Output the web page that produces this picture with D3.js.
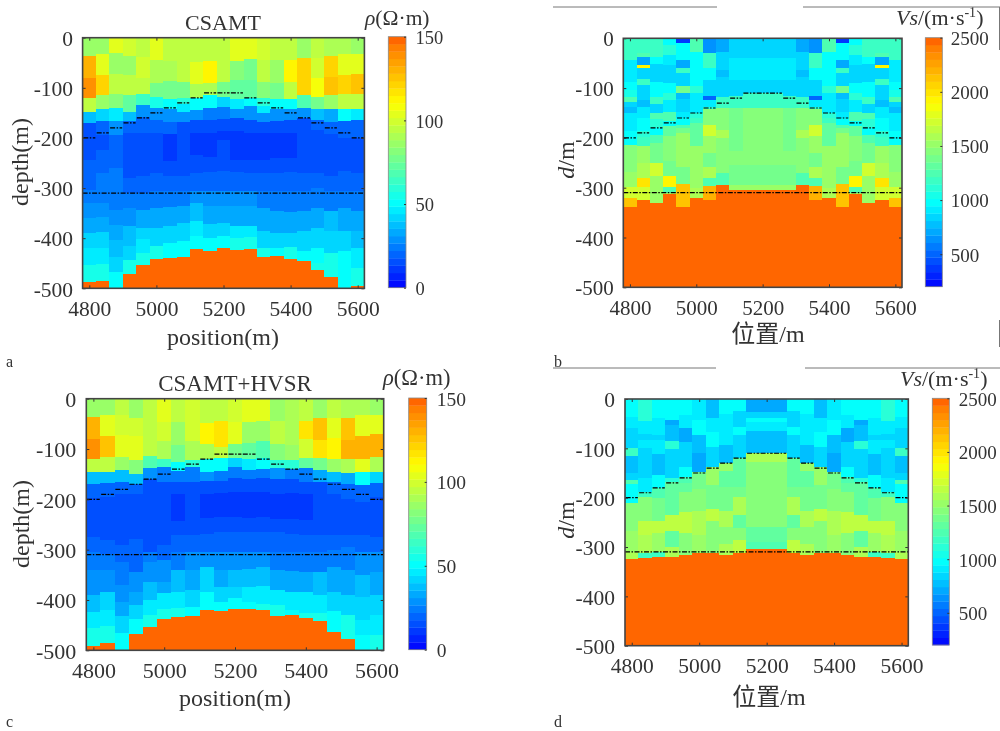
<!DOCTYPE html>
<html><head><meta charset="utf-8">
<script src="https://d3js.org/d3.v7.min.js"></script>
<style>html,body{margin:0;padding:0;background:#fff}svg{display:block;filter:blur(0.4px)}text{font-family:"Liberation Serif","Noto Sans CJK SC",serif;fill:#333}</style>
</head><body><svg id="c" width="1000" height="731"></svg>
<script>
// x positions of the model columns (m)
const positions=[4800,4840,4880,4920,4960,5000,5040,5080,5120,5160,5200,5240,5280,5320,5360,5400,5440,5480,5520,5560,5600];
const xTicks=[4800,5000,5200,5400,5600];
const depthTicks=[0,-100,-200,-300,-400,-500];
const rhoTicks=[0,50,100,150];
const vsTicks=[500,1000,1500,2000,2500];
// interface depth of each column (m), and the deep flat interface
const interfaceDepth=[200,190,180,170,160,150,140,130,120,110,110,110,120,130,140,150,160,170,180,190,200];
const deepInterface=310;
// each column: bottom depth of layer, value, bottom depth, value ...
const rhoCsamt=[
[36,84,80,130,120,140,148,94,171,38,220,17,244,15,274,19,304,22,330,26,360,29,390,33,420,40,453,46,488,55,500,150],
[33,84,75,102,114,122,142,88,166,44,195,20,225,15,270,18,304,23,330,26,357,29,387,34,420,41,451,47,485,55,500,150],
[31,104,73,88,113,97,140,82,166,48,194,27,260,22,304,23,344,24,374,27,404,31,437,37,468,43,500,50],
[36,100,75,88,115,97,148,72,166,37,190,20,280,14,310,18,340,23,375,27,415,36,443,44,472,55,500,150],
[38,95,80,100,113,97,135,65,158,28,190,19,240,14,275,17,310,20,343,25,380,32,402,40,430,46,453,53,500,150],
[45,105,90,92,118,78,140,55,165,28,190,18,270,14,305,18,340,25,380,33,415,44,442,55,500,150],
[47,97,87,90,123,75,143,50,169,28,192,18,247,11,275,15,305,18,337,25,375,33,410,42,439,52,500,150],
[47,97,88,97,120,78,133,58,148,48,169,27,190,17,255,14,275,15,305,18,335,26,370,33,405,42,437,50,500,150],
[48,97,92,102,121,90,144,50,165,28,190,16,235,11,270,15,305,20,330,30,365,38,395,46,422,52,500,150],
[47,97,90,112,115,90,140,50,165,25,190,14,238,11,268,14,305,20,335,28,372,34,400,44,425,52,500,150],
[48,97,88,97,118,75,138,44,162,25,187,14,205,12,240,14,265,16,305,20,335,28,370,35,395,44,420,52,500,150],
[47,102,85,80,122,72,142,46,160,28,187,14,245,11,268,14,305,18,335,27,375,35,400,47,423,53,500,150],
[43,102,85,78,120,72,137,50,165,28,190,15,245,11,270,14,305,20,335,27,375,35,398,47,422,55,500,150],
[44,99,88,97,120,80,137,58,150,45,168,27,190,16,245,12,270,14,305,18,340,24,385,33,420,44,437,53,500,150],
[44,97,90,86,122,78,142,52,167,27,190,15,240,12,270,14,305,18,345,24,390,34,420,44,435,52,500,150],
[45,97,88,112,122,95,142,52,165,28,190,16,240,12,268,14,305,18,348,25,390,33,417,42,442,54,500,150],
[40,84,115,123,140,68,160,30,185,17,240,14,270,16,305,20,345,24,385,31,425,40,446,52,500,150],
[40,95,80,100,118,107,143,75,165,37,185,20,270,14,300,18,340,23,380,33,420,43,450,52,463,57,500,150],
[36,92,78,120,115,125,143,86,168,33,192,19,275,14,305,20,345,25,385,36,430,44,478,55,500,150],
[33,90,75,104,113,122,143,97,166,50,200,20,265,16,305,20,340,26,385,34,425,42,460,50,500,52],
[33,88,72,102,112,125,143,95,165,48,200,18,270,15,305,20,345,26,385,33,420,38,460,46,495,55,500,150]];
const rhoJoint=[
[36,84,80,130,120,138,145,94,170,38,198,20,245,14,275,16,305,22,340,25,390,30,423,38,456,48,491,56,500,150],
[32,84,75,105,115,125,145,94,167,38,195,19,250,14,280,16,308,21,340,25,385,30,420,40,451,48,485,55,500,150],
[32,94,72,100,115,102,142,88,165,37,190,20,255,14,290,17,325,22,370,25,405,28,432,33,465,42,500,50],
[38,88,75,99,122,105,150,80,170,36,190,20,278,14,305,19,345,22,385,27,410,32,438,42,468,50,500,150],
[38,94,90,97,113,97,138,70,160,28,200,17,258,14,305,17,325,25,365,30,400,38,430,45,453,53,500,150],
[47,105,85,100,120,90,135,65,165,26,190,17,265,14,290,15,320,20,365,27,387,35,418,45,437,54,500,150],
[46,97,92,86,125,78,143,50,165,24,190,15,243,11,270,14,305,18,340,26,385,36,415,47,433,55,500,150],
[47,99,85,100,122,90,135,58,165,26,190,15,252,14,270,14,305,18,340,27,380,35,413,44,431,52,500,150],
[48,97,90,112,120,90,145,50,163,27,190,15,238,11,268,14,305,20,335,30,385,40,420,50,500,150],
[45,97,95,118,118,97,143,52,163,26,188,14,235,11,265,14,305,20,340,28,375,34,405,43,422,52,500,150],
[46,99,90,105,118,78,136,44,158,24,185,14,235,12,265,14,305,20,340,28,375,36,397,44,417,50,500,150],
[46,102,88,86,120,72,142,46,160,26,185,14,238,11,265,14,305,19,338,28,375,38,405,46,418,52,500,150],
[45,102,85,86,118,68,140,52,158,24,185,14,235,11,265,14,305,20,335,28,372,38,407,47,420,54,500,150],
[45,88,90,97,122,80,138,60,160,28,190,15,240,12,265,15,305,19,340,26,380,34,410,46,432,54,500,150],
[45,92,92,92,122,86,140,58,160,26,188,14,240,11,268,14,305,18,342,25,385,33,420,45,430,52,500,150],
[45,97,80,116,118,99,138,72,165,25,190,15,242,12,270,14,305,20,345,26,385,34,425,48,436,54,500,150],
[38,84,82,125,117,118,142,78,165,33,190,17,240,14,270,14,305,20,345,26,390,36,425,46,442,54,500,150],
[38,97,78,105,120,112,145,86,165,36,190,20,270,14,300,18,335,24,385,32,422,44,463,52,500,150],
[38,90,82,125,120,130,148,90,170,32,200,19,270,15,295,20,340,25,390,32,430,44,477,55,500,150],
[33,90,75,104,120,128,145,102,172,50,205,22,270,15,305,21,350,28,395,36,440,44,470,47,500,52],
[33,88,70,102,115,128,145,92,168,42,195,20,275,16,305,22,345,27,390,33,430,40,470,47,500,55]];
const vsHvsr=[
[43,1150,87,880,104,980,117,1020,127,1280,137,850,150,750,187,900,200,980,214,1000,268,1420,298,1550,320,1750,338,2150,500,2500],
[30,1200,37,1280,53,720,60,1900,82,830,94,1150,124,850,137,750,160,880,187,960,199,1080,217,1200,251,1500,280,1620,298,2000,324,1700,500,2500],
[37,1150,51,980,87,860,117,980,132,1150,149,850,163,1250,181,1080,194,960,211,1250,251,1400,276,1700,301,1500,330,1550,500,2500],
[13,1000,33,1120,53,880,90,830,110,980,124,1080,147,900,167,1250,177,980,197,1300,247,1450,276,1380,298,1950,310,1250,313,1600,500,2500],
[9,350,43,1000,60,720,69,1150,96,830,109,1400,122,800,147,860,160,940,174,1000,181,1250,191,1400,258,1550,293,1380,338,2150,500,2500],
[27,1230,96,970,110,1100,120,900,150,880,160,1080,171,1200,217,1300,300,1550,320,1600,500,2500],
[30,650,60,1200,84,1000,116,860,124,480,137,880,142,1080,174,1450,196,1720,231,1500,258,1400,280,1580,296,1230,324,2200,500,2500],
[27,720,64,860,77,780,117,860,140,1200,184,1480,200,1580,271,1450,294,1280,500,2500],
[40,840,84,880,116,830,140,1150,227,1400,254,1470,294,1380,304,1500,500,2500],
[40,840,84,880,110,830,140,1150,227,1420,254,1470,294,1400,304,1500,500,2500],
[40,840,84,880,110,830,140,1150,227,1420,254,1470,294,1400,305,1500,500,2500],
[40,840,84,880,110,830,140,1150,227,1420,254,1470,294,1400,304,1500,500,2500],
[40,840,84,880,116,830,140,1150,227,1400,254,1470,294,1380,304,1500,500,2500],
[27,720,64,860,77,780,117,860,140,1200,184,1480,200,1580,271,1450,294,1280,500,2500],
[30,650,60,1200,84,1000,116,860,124,480,137,880,142,1080,174,1450,196,1720,231,1500,258,1400,280,1580,296,1230,324,2200,500,2500],
[27,1230,96,970,110,1100,120,900,150,880,160,1080,171,1200,217,1300,300,1550,320,1600,500,2500],
[9,350,43,1000,60,720,69,1150,96,830,109,1400,122,800,147,860,160,940,174,1000,181,1250,191,1400,258,1550,293,1380,338,2150,500,2500],
[13,1000,33,1120,53,880,90,830,110,980,124,1080,147,900,167,1250,177,980,197,1300,247,1450,276,1380,298,1950,310,1250,313,1600,500,2500],
[37,1150,51,980,87,860,117,980,132,1150,149,850,163,1250,181,1080,194,960,211,1250,251,1400,276,1700,301,1500,330,1550,500,2500],
[30,1200,37,1280,53,720,60,1900,82,830,94,1150,124,850,137,750,160,880,187,960,199,1080,217,1200,251,1500,280,1620,298,2000,324,1700,500,2500],
[43,1150,87,880,104,980,117,1020,127,1280,137,850,150,750,187,900,200,980,214,1000,268,1420,298,1550,320,1750,338,2150,500,2500]];
const vsJoint=[
[36,960,59,900,100,850,115,1150,150,800,164,850,173,1250,198,950,210,1000,268,1430,310,1550,324,1620,500,2500],
[45,1120,70,880,83,840,100,880,161,870,188,920,198,1200,247,1470,276,1650,313,1580,322,1150,500,2500],
[38,980,73,880,83,830,112,880,154,800,180,950,200,1230,247,1380,272,1650,310,1550,320,1200,500,2500],
[43,960,53,700,85,760,102,1100,161,840,169,1080,235,1300,267,1650,299,1320,310,1620,320,1600,500,2500],
[32,1000,58,900,87,720,137,820,158,1000,171,1230,188,1300,229,1430,272,1650,316,1480,500,2500],
[43,920,73,1000,110,800,147,740,182,1380,228,1480,276,1560,313,1520,500,2500],
[38,760,66,880,97,1000,137,820,174,1500,222,1400,247,1680,286,1450,312,1480,500,2500],
[31,1000,59,900,93,900,130,800,146,1550,178,1320,226,1400,260,1620,293,1480,316,1600,500,2500],
[24,950,56,830,73,1000,120,820,178,1320,198,1400,235,1580,262,1320,286,1430,313,1640,500,2500],
[27,740,39,850,47,960,65,880,110,770,128,1620,201,1450,259,1470,289,1340,304,1240,500,2500],
[27,740,39,850,47,960,65,880,110,770,128,1620,201,1450,259,1470,289,1340,304,1240,500,2500],
[27,740,39,850,47,960,65,880,110,770,128,1620,201,1450,259,1470,289,1340,304,1240,500,2500],
[24,950,56,830,73,1000,120,820,178,1320,198,1400,235,1580,262,1320,286,1430,313,1640,500,2500],
[31,1000,59,900,93,900,130,800,146,1550,178,1320,226,1400,260,1620,293,1480,316,1600,500,2500],
[38,760,66,880,97,1000,137,820,174,1500,222,1400,247,1680,286,1450,312,1480,500,2500],
[43,920,73,1000,110,800,147,740,182,1380,228,1480,276,1560,313,1520,500,2500],
[32,1000,58,900,87,720,137,820,158,1000,171,1230,188,1300,229,1430,272,1650,316,1480,500,2500],
[43,960,53,700,85,760,102,1100,161,840,169,1080,235,1300,267,1650,299,1320,310,1620,320,1600,500,2500],
[38,980,73,880,83,830,112,880,154,800,180,950,200,1230,247,1380,272,1650,310,1550,320,1200,500,2500],
[45,1120,70,880,83,840,100,880,161,870,188,920,198,1200,247,1470,276,1650,313,1580,322,1150,500,2500],
[36,960,59,900,100,850,115,1150,150,800,164,850,173,1250,198,950,210,1000,268,1430,310,1550,324,1620,500,2500]];

const colorStops=[0,1/3,0.534,0.735,1];
const colorHex=["#0000ff","#00ffff","#80ff80","#ffff00","#ff6600"];
const levels=34;
const SERIF='"Liberation Serif","Noto Sans CJK SC",serif';

const panels=[
 {layers:rhoCsamt,dom:[0,150],cbTicks:rhoTicks,title:"CSAMT",titleSize:22,titleXY:[223,30],yl:"depth(m)",ylXY:[28,162],xl:"position(m)",xlXY:[223,345],
  box:[82.6,364.4,37.7,288.3],cb:[388.3,406,36.7,287.7],tf:21.5,cf:18.5,cbx:7.5,tickY:316,yPad:6.5,unit:"rho",unitSize:21.5,unitXY:[365,25],letter:"a",letterXY:[6,367]},
 {layers:vsHvsr,dom:[200,2500],cbTicks:vsTicks,yl:"d/m",ylXY:[574,160],xl:"位置/m",xlXY:[768,342],
  box:[623.3,902,38.3,287.3],cb:[925.3,942.3,37.7,286.7],tf:21,cf:19,cbx:6.5,tickY:314.5,yPad:6.5,unit:"vs",unitSize:22,unitXY:[896,25],letter:"b",letterXY:[554,367]},
 {layers:rhoJoint,dom:[0,150],cbTicks:rhoTicks,title:"CSAMT+HVSR",titleSize:23,titleXY:[235,391],yl:"depth(m)",ylXY:[29,524],xl:"position(m)",xlXY:[235,706],
  box:[86.3,383.7,398.7,650.3],cb:[408.7,426.7,398,649.7],tf:22,cf:19.5,cbx:8,tickY:678,yPad:7,unit:"rho",unitSize:22.5,unitXY:[383,385],letter:"c",letterXY:[6,727]},
 {layers:vsJoint,dom:[200,2500],cbTicks:vsTicks,yl:"d/m",ylXY:[574,520],xl:"位置/m",xlXY:[769,705],
  box:[625,908.3,399,645.7],cb:[932.3,949.3,398.3,645],tf:21.5,cf:19,cbx:7.5,tickY:672.5,yPad:7,unit:"vs",unitSize:22,unitXY:[900,386],letter:"d",letterXY:[554,727]}
];

const svg=d3.select("#c");
svg.append("rect").attr("width",1000).attr("height",731).attr("fill","#fff");

panels.forEach(p=>{
 const [L,R,T,B]=p.box,[CL,CR,CT,CB]=p.cb;
 const x=d3.scaleLinear().domain([4780,5620]).range([L,R]);
 const y=d3.scaleLinear().domain([0,-500]).range([T,B]);
 const tScale=d3.scaleLinear().domain(p.dom).range([0,1]);
 const base=d3.scaleLinear().domain(colorStops).range(colorHex);
 const color=v=>{const k=Math.min(levels-1,Math.floor(tScale(v)*levels));return base((k+0.5)/levels)};
 const g=svg.append("g");
 const halfCell=(positions[1]-positions[0])/2;
 positions.forEach((pos,i)=>{
  const flat=p.layers[i];let top=0;
  const x0=Math.round(x(pos-halfCell)),x1=Math.round(x(pos+halfCell));
  d3.range(0,flat.length,2).forEach(j=>{
   const bot=flat[j],val=flat[j+1];
   const y0=Math.round(y(-top)),y1=Math.round(y(-bot));
   g.append("rect").attr("x",x0).attr("width",x1-x0).attr("y",y0).attr("height",y1-y0)
    .attr("shape-rendering","crispEdges").attr("fill",val>=p.dom[1]?"#ff6600":color(val));
   top=bot;
  });
 });
 // interfaces
 const dash="5,1.5,1.5,1.5";
 positions.forEach((pos,i)=>{
  g.append("line").attr("x1",x(pos-18)).attr("x2",x(pos+18)).attr("y1",y(-interfaceDepth[i])).attr("y2",y(-interfaceDepth[i]))
   .attr("stroke","#000").attr("stroke-width",1.2).attr("stroke-dasharray",dash);
 });
 g.append("line").attr("x1",L).attr("x2",R).attr("y1",y(-deepInterface)).attr("y2",y(-deepInterface))
   .attr("stroke","#000").attr("stroke-width",1.2).attr("stroke-dasharray",dash);
 // axes
 const style=(a)=>{a.select(".domain").remove();a.selectAll("line").attr("stroke","#333").attr("stroke-width",1)};
 svg.append("g").attr("transform",`translate(0,${B})`).call(d3.axisBottom(x).tickValues(xTicks).tickSize(-3).tickFormat(String).tickPadding(0))
  .call(style).call(a=>a.selectAll("text").attr("font-family",SERIF).attr("font-size",p.tf).attr("fill","#333").attr("y",0).attr("dy",0).attr("text-anchor","middle").attr("transform",`translate(0,${p.tickY-B})`));
 svg.append("g").attr("transform",`translate(0,${T})`).call(d3.axisTop(x).tickValues(xTicks).tickSize(-3).tickFormat("")).call(style);
 svg.append("g").attr("transform",`translate(${L},0)`).call(d3.axisLeft(y).tickValues(depthTicks).tickSize(-3).tickFormat(String).tickPadding(p.yPad+3))
  .call(style).call(a=>a.selectAll("text").attr("font-family",SERIF).attr("font-size",p.tf).attr("fill","#333").attr("dy","0.36em"));
 svg.append("g").attr("transform",`translate(${R},0)`).call(d3.axisRight(y).tickValues(depthTicks).tickSize(-3).tickFormat("")).call(style);
 svg.append("rect").attr("x",L).attr("y",T).attr("width",R-L).attr("height",B-T).attr("fill","none").attr("stroke","#444").attr("stroke-width",1.6);
 // colour bar
 const cs=d3.scaleLinear().domain(p.dom).range([CB,CT]);
 d3.range(levels).forEach(k=>{
  const v0=p.dom[0]+(p.dom[1]-p.dom[0])*k/levels,v1=p.dom[0]+(p.dom[1]-p.dom[0])*(k+1)/levels;
  svg.append("rect").attr("x",CL).attr("width",CR-CL).attr("y",cs(v1)).attr("height",cs(v0)-cs(v1)+0.3)
   .attr("fill",k===levels-1?"#ff6600":color((v0+v1)/2));
 });
 svg.append("rect").attr("x",CL).attr("y",CT).attr("width",CR-CL).attr("height",CB-CT).attr("fill","none").attr("stroke","#888").attr("stroke-width",0.8);
 svg.append("g").attr("transform",`translate(${CR},0)`).call(d3.axisRight(cs).tickValues(p.cbTicks).tickSize(-2).tickPadding(p.cbx+2).tickFormat(String))
  .call(style).call(a=>a.selectAll("text").attr("font-family",SERIF).attr("font-size",p.cf).attr("fill","#333").attr("dy","0.36em"));
 // labels
 if(p.title)svg.append("text").attr("x",p.titleXY[0]).attr("y",p.titleXY[1]).attr("text-anchor","middle").attr("font-size",p.titleSize).text(p.title);
 svg.append("text").attr("x",p.xlXY[0]).attr("y",p.xlXY[1]).attr("text-anchor","middle").attr("font-size",24).text(p.xl);
 const yl=svg.append("text").attr("transform",`translate(${p.ylXY[0]},${p.ylXY[1]}) rotate(-90)`).attr("text-anchor","middle").attr("font-size",24);
 if(p.yl==="d/m"){yl.append("tspan").attr("font-style","italic").text("d");yl.append("tspan").text("/m");}else yl.text(p.yl);
 const u=svg.append("text").attr("x",p.unitXY[0]).attr("y",p.unitXY[1]).attr("font-size",p.unitSize);
 if(p.unit==="rho"){u.append("tspan").attr("font-style","italic").text("ρ");u.append("tspan").text("(Ω·m)");}
 else{u.append("tspan").attr("font-style","italic").text("Vs");u.append("tspan").text("/(m·s");
  u.append("tspan").attr("font-size",14).attr("dy",-8).text("-1");u.append("tspan").attr("dy",8).text(")");}
 svg.append("text").attr("x",p.letterXY[0]).attr("y",p.letterXY[1]).attr("font-size",16).text(p.letter);
});

// thin page rules left over from the source layout
[[553,717,7,7],[803,1000,7,7],[553,716,368,368],[805,1000,368,368],[999.5,999.5,7,50],[999.5,999.5,320,347]].forEach(s=>{
 svg.append("line").attr("x1",s[0]).attr("x2",s[1]).attr("y1",s[2]).attr("y2",s[3]).attr("stroke","#777").attr("stroke-width",1);
});
</script></body></html>
